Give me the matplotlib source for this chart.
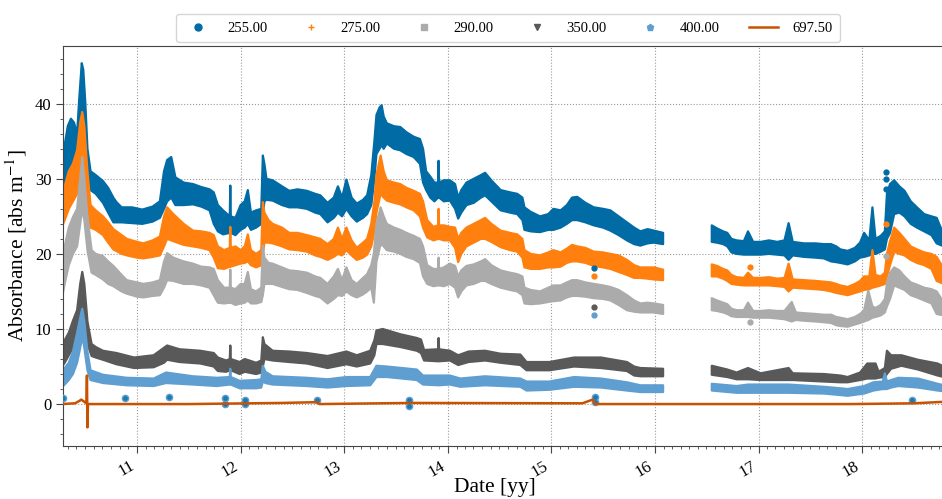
import numpy as np
import pandas as pd
import matplotlib
matplotlib.use("Agg")
import matplotlib.pyplot as plt
import matplotlib.dates as mdates
from matplotlib.lines import Line2D

plt.rcParams['font.family'] = 'serif'
plt.rcParams['font.serif'] = ['Liberation Serif', 'DejaVu Serif']
plt.rcParams['mathtext.fontset'] = 'stix'

nan = np.nan

# -------- DATA: (decimal year, lower edge, upper edge) of each absorbance band --------
band_255 = [
    (2010.27, 27.0, 33.0), (2010.30, 28.5, 34.5), (2010.33, 30.5, 37.0), (2010.36, 31.5, 38.0),
    (2010.39, 32.5, 37.5), (2010.42, 31.0, 36.0), (2010.44, 33.0, 40.5), (2010.465, 36.0, 45.4),
    (2010.48, 36.0, 44.5), (2010.50, 32.0, 40.0), (2010.52, 29.0, 34.0), (2010.55, 28.5, 31.0),
    (2010.60, 28.0, 30.5), (2010.67, 26.8, 29.7), (2010.72, 25.5, 28.8), (2010.77, 24.2, 27.5),
    (2010.80, 24.2, 26.9), (2010.85, 24.2, 26.2), (2010.95, 24.1, 26.2), (2011.05, 24.0, 25.9),
    (2011.15, 24.3, 26.3), (2011.22, 24.8, 27.0), (2011.26, 26.0, 31.0), (2011.29, 27.0, 32.5),
    (2011.33, 27.5, 32.9), (2011.37, 26.5, 30.2), (2011.45, 26.5, 29.5), (2011.54, 26.6, 29.3),
    (2011.62, 26.3, 28.9), (2011.70, 25.8, 28.6), (2011.74, 24.0, 28.2), (2011.78, 23.0, 26.5),
    (2011.83, 22.6, 25.8), (2011.895, 22.8, 25.0), (2011.90, 23.0, 29.1), (2011.905, 22.8, 25.0),
    (2011.95, 22.5, 24.8), (2012.00, 23.2, 26.5), (2012.04, 23.5, 27.0), (2012.07, 24.0, 28.5),
    (2012.10, 23.2, 25.5), (2012.15, 23.5, 25.8), (2012.20, 24.0, 26.0), (2012.215, 25.0, 33.1),
    (2012.23, 27.0, 32.0), (2012.25, 27.2, 30.0), (2012.31, 27.1, 29.8), (2012.40, 26.5, 29.0),
    (2012.47, 26.2, 28.4), (2012.55, 26.2, 28.6), (2012.64, 26.0, 28.4), (2012.72, 25.5, 28.0),
    (2012.77, 25.3, 27.8), (2012.84, 24.2, 26.8), (2012.90, 24.8, 27.5), (2012.94, 25.5, 29.0),
    (2012.98, 25.0, 27.5), (2013.02, 26.0, 29.9), (2013.07, 25.0, 27.5), (2013.12, 24.3, 26.7),
    (2013.18, 24.8, 27.2), (2013.22, 25.3, 27.8), (2013.26, 26.5, 30.5), (2013.29, 30.0, 35.0),
    (2013.31, 33.3, 38.5), (2013.34, 34.0, 39.5), (2013.36, 34.5, 39.8), (2013.38, 34.0, 38.3),
    (2013.41, 34.7, 37.4), (2013.48, 34.0, 37.0), (2013.54, 33.8, 36.9), (2013.60, 33.3, 36.2),
    (2013.67, 32.9, 35.6), (2013.73, 32.0, 35.3), (2013.76, 29.5, 34.0), (2013.79, 28.5, 31.0),
    (2013.83, 27.5, 30.3), (2013.87, 27.0, 29.5), (2013.905, 27.5, 29.5), (2013.91, 28.0, 32.4),
    (2013.915, 27.5, 29.5), (2013.96, 27.0, 29.8), (2014.02, 27.1, 29.8), (2014.07, 26.0, 29.3),
    (2014.10, 24.7, 27.5), (2014.13, 25.5, 28.5), (2014.18, 26.5, 29.5), (2014.25, 26.8, 30.0),
    (2014.32, 27.5, 30.5), (2014.36, 27.8, 30.8), (2014.42, 27.0, 29.8), (2014.51, 25.8, 28.5),
    (2014.60, 25.5, 28.2), (2014.67, 25.3, 28.0), (2014.72, 24.5, 27.5), (2014.74, 23.2, 26.2),
    (2014.80, 23.0, 25.6), (2014.89, 22.9, 25.0), (2014.97, 23.2, 25.3), (2015.02, 23.2, 26.0),
    (2015.09, 23.5, 25.8), (2015.15, 24.0, 26.5), (2015.20, 24.5, 27.5), (2015.25, 24.5, 27.6),
    (2015.33, 24.2, 26.8), (2015.41, 23.8, 26.2), (2015.50, 23.5, 26.0), (2015.57, 23.1, 25.8),
    (2015.65, 22.5, 25.0), (2015.73, 21.8, 24.2), (2015.80, 21.3, 23.5), (2015.86, 21.1, 23.0),
    (2015.93, 21.4, 23.3), (2015.99, 21.5, 23.1), (2016.08, 21.3, 22.8), (2016.30, nan, nan),
    (2016.55, 21.6, 23.8), (2016.60, 21.5, 23.4), (2016.66, 21.3, 23.0), (2016.70, 21.0, 22.8),
    (2016.74, 20.2, 22.0), (2016.79, 20.0, 21.8), (2016.86, 19.9, 21.7), (2016.90, 19.9, 23.0),
    (2016.95, 19.9, 21.6), (2017.02, 19.9, 21.6), (2017.10, 20.0, 21.8), (2017.18, 19.9, 21.6),
    (2017.25, 19.8, 21.8), (2017.29, 19.2, 24.1), (2017.33, 19.8, 21.6), (2017.44, 19.6, 21.4),
    (2017.55, 19.5, 21.4), (2017.63, 19.4, 21.3), (2017.70, 19.0, 21.3), (2017.75, 18.9, 21.0),
    (2017.79, 18.8, 20.6), (2017.86, 18.6, 20.4), (2017.93, 19.0, 20.8), (2017.98, 19.5, 21.5),
    (2018.02, 19.6, 22.8), (2018.07, 19.8, 21.8), (2018.10, 20.0, 26.2), (2018.13, 20.0, 22.0),
    (2018.18, 20.3, 22.4), (2018.22, 20.6, 23.0), (2018.24, 22.0, 28.0), (2018.27, 22.8, 29.3),
    (2018.31, 25.3, 29.8), (2018.36, 25.5, 29.0), (2018.41, 25.0, 28.4), (2018.47, 24.0, 27.0),
    (2018.53, 23.5, 26.2), (2018.60, 23.0, 25.3), (2018.67, 22.5, 25.0), (2018.72, 21.4, 24.8),
    (2018.79, 21.0, 22.5),
]

band_275 = [
    (2010.27, 23.5, 28.0), (2010.30, 24.5, 29.0), (2010.34, 26.0, 31.0), (2010.38, 27.0, 32.0),
    (2010.42, 28.0, 33.8), (2010.45, 30.0, 37.5), (2010.47, 32.0, 38.9), (2010.49, 30.0, 37.0),
    (2010.52, 26.7, 31.0), (2010.55, 23.5, 26.5), (2010.60, 23.2, 25.8), (2010.67, 22.5, 25.0),
    (2010.72, 21.5, 24.2), (2010.77, 20.6, 23.3), (2010.85, 20.0, 22.5), (2010.90, 19.8, 22.0),
    (2011.00, 19.5, 21.6), (2011.06, 19.4, 21.4), (2011.15, 19.6, 21.8), (2011.22, 19.8, 22.3),
    (2011.26, 21.0, 25.0), (2011.29, 22.0, 26.2), (2011.35, 21.7, 25.3), (2011.45, 21.2, 24.0),
    (2011.54, 21.0, 23.1), (2011.62, 20.8, 23.0), (2011.70, 20.5, 22.8), (2011.74, 19.5, 22.5),
    (2011.78, 18.1, 21.0), (2011.84, 18.0, 20.5), (2011.895, 18.3, 20.8), (2011.90, 18.5, 23.6),
    (2011.905, 18.3, 20.8), (2011.95, 18.5, 21.0), (2012.00, 18.7, 20.5), (2012.04, 18.8, 21.0),
    (2012.07, 19.0, 22.6), (2012.10, 18.5, 20.5), (2012.15, 18.2, 20.0), (2012.20, 18.5, 20.5),
    (2012.215, 20.0, 26.9), (2012.23, 21.5, 25.5), (2012.27, 21.5, 24.5), (2012.31, 21.4, 24.0),
    (2012.40, 21.0, 23.5), (2012.47, 20.6, 22.8), (2012.55, 20.5, 22.8), (2012.64, 20.3, 22.5),
    (2012.72, 19.8, 22.2), (2012.77, 19.6, 22.0), (2012.84, 19.2, 21.3), (2012.90, 19.6, 22.0),
    (2012.94, 20.0, 23.5), (2012.98, 19.8, 22.0), (2013.02, 20.5, 23.5), (2013.07, 19.8, 21.8),
    (2013.12, 19.2, 20.8), (2013.18, 19.5, 21.5), (2013.22, 19.9, 22.0), (2013.26, 21.0, 24.0),
    (2013.29, 23.0, 27.0), (2013.31, 25.5, 30.5), (2013.35, 28.0, 33.1), (2013.38, 27.5, 31.0),
    (2013.41, 27.1, 29.8), (2013.48, 26.8, 29.5), (2013.54, 26.6, 29.3), (2013.60, 26.2, 28.8),
    (2013.67, 25.8, 28.4), (2013.73, 25.0, 28.0), (2013.76, 23.5, 27.0), (2013.80, 22.2, 24.5),
    (2013.86, 21.8, 23.6), (2013.905, 22.0, 23.8), (2013.91, 22.2, 26.0), (2013.915, 22.0, 23.8),
    (2013.96, 21.8, 23.8), (2014.02, 21.8, 23.6), (2014.07, 20.8, 23.5), (2014.10, 18.9, 22.0),
    (2014.13, 20.0, 22.8), (2014.18, 21.0, 23.5), (2014.25, 21.5, 24.0), (2014.32, 22.0, 24.5),
    (2014.36, 22.0, 24.8), (2014.42, 21.6, 24.0), (2014.51, 20.9, 23.1), (2014.60, 20.5, 22.8),
    (2014.67, 20.3, 22.6), (2014.72, 19.5, 22.0), (2014.74, 18.2, 20.5), (2014.80, 18.0, 20.0),
    (2014.89, 18.0, 19.8), (2014.97, 18.2, 20.2), (2015.02, 18.2, 20.5), (2015.09, 18.3, 20.2),
    (2015.15, 18.8, 20.7), (2015.20, 19.0, 21.2), (2015.25, 19.0, 21.0), (2015.33, 18.8, 20.8),
    (2015.41, 18.4, 20.3), (2015.50, 18.2, 20.2), (2015.57, 18.0, 20.0), (2015.65, 17.6, 19.8),
    (2015.73, 17.2, 19.2), (2015.80, 16.8, 18.5), (2015.86, 16.8, 18.2), (2015.93, 16.7, 18.2),
    (2015.99, 16.6, 18.2), (2016.08, 16.5, 17.9), (2016.30, nan, nan),
    (2016.55, 17.0, 18.6), (2016.60, 17.0, 18.4), (2016.66, 16.7, 18.0), (2016.70, 16.4, 17.8),
    (2016.74, 16.0, 17.2), (2016.79, 15.9, 16.9), (2016.86, 15.8, 16.8), (2016.90, 15.8, 17.5),
    (2016.95, 15.8, 16.8), (2017.02, 15.8, 16.8), (2017.10, 15.8, 16.9), (2017.18, 15.7, 16.7),
    (2017.25, 15.6, 16.8), (2017.29, 15.0, 18.7), (2017.33, 15.5, 16.6), (2017.44, 15.4, 16.5),
    (2017.55, 15.3, 16.4), (2017.63, 15.2, 16.3), (2017.70, 15.0, 16.2), (2017.75, 14.8, 16.0),
    (2017.79, 14.7, 15.8), (2017.86, 14.5, 15.6), (2017.93, 14.8, 16.0), (2017.98, 15.0, 16.4),
    (2018.02, 15.2, 17.0), (2018.07, 15.3, 17.0), (2018.10, 15.5, 20.5), (2018.13, 15.6, 17.2),
    (2018.18, 15.8, 17.0), (2018.22, 16.0, 17.5), (2018.24, 17.0, 20.0), (2018.27, 18.5, 21.7),
    (2018.31, 20.3, 23.5), (2018.36, 20.0, 22.8), (2018.41, 19.8, 22.0), (2018.47, 19.2, 21.0),
    (2018.53, 18.8, 20.6), (2018.60, 18.5, 20.2), (2018.67, 18.0, 20.0), (2018.72, 16.4, 19.6),
    (2018.79, 16.0, 18.0),
]

band_290 = [
    (2010.27, 13.8, 18.0), (2010.30, 16.0, 21.0), (2010.34, 18.5, 23.5), (2010.38, 20.0, 24.9),
    (2010.42, 21.0, 26.0), (2010.45, 24.0, 30.0), (2010.47, 26.0, 32.9), (2010.49, 24.5, 30.0),
    (2010.52, 20.5, 25.0), (2010.56, 17.5, 20.5), (2010.60, 17.2, 20.0), (2010.67, 16.6, 19.7),
    (2010.72, 16.0, 19.0), (2010.77, 15.7, 18.4), (2010.85, 15.0, 17.2), (2010.90, 14.7, 16.5),
    (2011.00, 14.3, 16.2), (2011.06, 14.2, 16.0), (2011.15, 14.4, 16.2), (2011.22, 14.5, 16.5),
    (2011.26, 15.5, 19.0), (2011.29, 16.5, 20.1), (2011.35, 16.4, 19.5), (2011.45, 16.0, 19.0),
    (2011.54, 16.0, 18.7), (2011.62, 15.8, 18.3), (2011.70, 15.5, 18.2), (2011.74, 14.5, 18.0),
    (2011.78, 13.5, 16.5), (2011.84, 13.4, 15.5), (2011.895, 13.5, 15.5), (2011.90, 13.8, 17.9),
    (2011.905, 13.5, 15.5), (2011.95, 13.2, 15.3), (2012.00, 13.4, 16.0), (2012.04, 13.5, 16.0),
    (2012.07, 13.8, 17.6), (2012.10, 13.4, 15.3), (2012.15, 13.4, 15.0), (2012.20, 13.6, 15.5),
    (2012.215, 14.5, 21.1), (2012.23, 16.0, 19.5), (2012.27, 16.0, 18.8), (2012.31, 16.0, 18.7),
    (2012.40, 15.6, 18.2), (2012.47, 15.3, 17.8), (2012.55, 15.2, 17.7), (2012.64, 14.8, 17.5),
    (2012.72, 14.4, 17.0), (2012.77, 14.2, 16.8), (2012.84, 13.4, 16.0), (2012.90, 14.0, 17.0),
    (2012.94, 14.5, 18.0), (2012.98, 14.4, 16.5), (2013.02, 15.0, 18.2), (2013.07, 14.5, 16.5),
    (2013.12, 14.2, 16.0), (2013.18, 14.6, 16.8), (2013.22, 15.0, 17.3), (2013.26, 15.5, 18.5),
    (2013.285, 13.5, 20.0), (2013.31, 19.0, 24.0), (2013.35, 21.3, 26.2), (2013.38, 21.0, 25.0),
    (2013.41, 20.5, 24.0), (2013.48, 20.3, 23.5), (2013.54, 20.0, 23.2), (2013.60, 19.6, 22.8),
    (2013.67, 19.3, 22.4), (2013.73, 18.8, 22.0), (2013.76, 17.0, 21.0), (2013.80, 16.0, 18.5),
    (2013.86, 15.7, 18.0), (2013.905, 15.8, 18.0), (2013.91, 15.8, 19.5), (2013.915, 15.8, 18.0),
    (2013.96, 15.7, 18.2), (2014.02, 16.0, 18.7), (2014.07, 15.5, 18.4), (2014.10, 14.2, 17.0),
    (2014.13, 15.0, 17.8), (2014.18, 15.8, 18.4), (2014.25, 16.0, 18.6), (2014.32, 16.4, 19.0),
    (2014.36, 16.4, 19.3), (2014.42, 16.0, 18.5), (2014.51, 15.5, 17.8), (2014.60, 15.2, 17.5),
    (2014.67, 15.0, 17.3), (2014.72, 14.5, 17.0), (2014.74, 13.4, 15.5), (2014.80, 13.3, 15.2),
    (2014.89, 13.4, 15.0), (2014.97, 13.6, 15.5), (2015.02, 13.7, 15.8), (2015.09, 13.8, 15.8),
    (2015.15, 14.2, 16.2), (2015.20, 14.4, 16.5), (2015.25, 14.4, 16.5), (2015.33, 14.3, 16.2),
    (2015.41, 14.1, 16.0), (2015.50, 14.0, 15.8), (2015.57, 13.8, 15.6), (2015.65, 13.2, 15.2),
    (2015.73, 12.5, 14.5), (2015.80, 12.3, 13.8), (2015.86, 12.2, 13.4), (2015.93, 12.2, 13.5),
    (2015.99, 12.2, 13.4), (2016.08, 12.0, 13.2), (2016.30, nan, nan),
    (2016.55, 12.5, 14.1), (2016.60, 12.4, 13.8), (2016.66, 12.2, 13.5), (2016.70, 12.0, 13.3),
    (2016.74, 11.7, 12.7), (2016.79, 11.6, 12.5), (2016.86, 11.6, 12.5), (2016.90, 11.6, 13.5),
    (2016.95, 11.5, 12.4), (2017.02, 11.5, 12.4), (2017.10, 11.5, 12.5), (2017.18, 11.4, 12.4),
    (2017.25, 11.3, 12.4), (2017.32, 11.0, 13.6), (2017.36, 11.2, 12.2), (2017.44, 11.1, 12.1),
    (2017.55, 11.0, 12.0), (2017.63, 10.9, 11.9), (2017.70, 10.8, 11.9), (2017.75, 10.5, 11.6),
    (2017.79, 10.4, 11.5), (2017.86, 10.3, 11.3), (2017.93, 10.6, 11.6), (2017.98, 10.8, 12.0),
    (2018.02, 11.0, 12.5), (2018.06, 11.2, 15.1), (2018.10, 11.5, 13.0), (2018.13, 11.6, 12.8),
    (2018.18, 11.8, 13.2), (2018.22, 12.2, 14.0), (2018.24, 13.0, 16.0), (2018.27, 14.0, 17.5),
    (2018.31, 15.8, 18.2), (2018.36, 15.5, 17.8), (2018.41, 15.2, 17.0), (2018.47, 14.5, 16.2),
    (2018.53, 14.2, 15.9), (2018.60, 13.8, 15.5), (2018.67, 13.4, 15.3), (2018.72, 12.0, 15.0),
    (2018.79, 11.8, 13.5),
]

band_350 = [
    (2010.27, 4.9, 8.0), (2010.30, 5.5, 8.5), (2010.34, 6.5, 9.5), (2010.38, 7.5, 11.1),
    (2010.42, 8.5, 12.5), (2010.45, 10.5, 16.0), (2010.47, 12.5, 17.6), (2010.49, 11.0, 16.0),
    (2010.52, 8.0, 11.0), (2010.56, 6.4, 8.0), (2010.60, 6.2, 7.6), (2010.67, 5.9, 7.1),
    (2010.80, 5.3, 6.8), (2010.97, 4.8, 6.2), (2011.16, 4.9, 6.5), (2011.26, 5.5, 7.5),
    (2011.29, 5.9, 7.8), (2011.41, 5.6, 7.3), (2011.61, 5.4, 7.1), (2011.74, 5.0, 6.8),
    (2011.78, 4.4, 6.2), (2011.86, 4.3, 5.8), (2011.895, 4.5, 6.0), (2011.90, 4.6, 7.8),
    (2011.905, 4.5, 6.0), (2011.99, 4.0, 5.6), (2012.04, 4.3, 6.0), (2012.15, 4.0, 5.5),
    (2012.20, 4.2, 5.8), (2012.215, 5.0, 8.9), (2012.23, 6.0, 8.0), (2012.31, 5.8, 7.1),
    (2012.47, 5.6, 7.0), (2012.64, 5.4, 6.8), (2012.84, 4.8, 6.4), (2013.02, 5.3, 7.0),
    (2013.12, 5.0, 6.5), (2013.25, 5.4, 7.1), (2013.29, 6.5, 8.5), (2013.31, 8.0, 9.8),
    (2013.37, 8.0, 10.0), (2013.54, 7.6, 9.3), (2013.70, 7.1, 8.8), (2013.74, 6.8, 8.6),
    (2013.77, 5.8, 7.2), (2013.905, 5.7, 7.3), (2013.91, 5.8, 8.8), (2013.915, 5.7, 7.3),
    (2014.02, 5.8, 7.1), (2014.10, 5.2, 6.5), (2014.20, 5.6, 7.0), (2014.36, 5.8, 7.1),
    (2014.51, 5.5, 6.7), (2014.70, 5.2, 6.6), (2014.76, 4.5, 5.6), (2014.98, 4.5, 5.6),
    (2015.22, 5.0, 6.2), (2015.48, 4.8, 6.2), (2015.73, 4.4, 5.6), (2015.80, 3.8, 5.0),
    (2015.86, 3.7, 4.8), (2016.08, 3.7, 4.7), (2016.30, nan, nan),
    (2016.55, 3.9, 5.1), (2016.70, 3.6, 4.6), (2016.79, 3.3, 4.2), (2016.90, 3.3, 4.8),
    (2017.02, 3.2, 4.1), (2017.29, 3.2, 4.8), (2017.33, 3.2, 4.1), (2017.63, 3.0, 4.0),
    (2017.79, 2.9, 3.8), (2017.86, 2.9, 3.6), (2017.98, 3.2, 4.2), (2018.05, 3.4, 5.4),
    (2018.13, 3.4, 5.4), (2018.16, 3.5, 4.3), (2018.22, 3.6, 4.8), (2018.24, 4.0, 7.1),
    (2018.28, 4.7, 6.5), (2018.38, 5.1, 6.5), (2018.54, 4.6, 5.9), (2018.73, 3.8, 5.4),
    (2018.79, 3.6, 5.0),
]

band_400 = [
    (2010.27, 2.2, 4.5), (2010.30, 2.6, 4.8), (2010.34, 3.2, 5.5), (2010.38, 4.0, 7.0),
    (2010.42, 5.5, 9.5), (2010.45, 7.5, 11.5), (2010.47, 9.0, 12.7), (2010.49, 7.5, 11.0),
    (2010.52, 4.5, 7.0), (2010.55, 3.2, 4.5), (2010.67, 2.8, 3.9), (2010.90, 2.5, 3.5),
    (2011.16, 2.4, 3.4), (2011.28, 2.8, 4.2), (2011.54, 2.6, 3.7), (2011.77, 2.4, 3.5),
    (2011.895, 2.6, 3.6), (2011.90, 2.8, 4.7), (2011.905, 2.6, 3.6), (2011.99, 2.1, 3.1),
    (2012.15, 2.1, 3.2), (2012.20, 2.2, 3.3), (2012.215, 3.0, 5.1), (2012.24, 2.8, 4.3),
    (2012.31, 2.6, 3.7), (2012.64, 2.4, 3.5), (2012.84, 2.2, 3.3), (2013.02, 2.4, 3.6),
    (2013.25, 2.5, 3.6), (2013.31, 3.6, 5.1), (2013.41, 3.6, 5.0), (2013.70, 3.2, 4.6),
    (2013.76, 2.6, 3.8), (2013.91, 2.5, 3.8), (2014.02, 2.6, 3.8), (2014.12, 2.3, 3.4),
    (2014.36, 2.5, 3.7), (2014.70, 2.3, 3.4), (2014.76, 1.8, 3.0), (2014.98, 1.9, 3.0),
    (2015.22, 2.3, 3.6), (2015.48, 2.2, 3.4), (2015.73, 1.8, 2.9), (2015.86, 1.6, 2.5),
    (2016.08, 1.6, 2.5), (2016.30, nan, nan),
    (2016.55, 1.8, 2.7), (2016.79, 1.5, 2.4), (2016.90, 1.5, 2.6), (2017.29, 1.5, 2.6),
    (2017.63, 1.4, 2.3), (2017.79, 1.2, 2.1), (2017.86, 1.1, 2.0), (2018.02, 1.4, 2.4),
    (2018.11, 1.8, 2.9), (2018.20, 2.0, 3.0), (2018.22, 2.0, 4.1), (2018.24, 2.0, 3.0),
    (2018.28, 2.2, 3.2), (2018.35, 2.4, 3.5), (2018.54, 2.2, 3.4), (2018.73, 1.8, 2.7),
    (2018.79, 1.7, 2.5),
]

# 697.5 nm reference channel, a single thin trace
trace_697 = [
    (2010.27, 0.0), (2010.40, 0.1), (2010.44, 0.4), (2010.46, 0.6), (2010.49, 0.3),
    (2010.51, 0.1), (2010.515, 3.8), (2010.52, -3.1), (2010.525, 0.0), (2010.60, 0.0),
    (2011.50, 0.0), (2012.40, 0.15), (2012.74, 0.25), (2012.76, 0.0), (2013.65, 0.15),
    (2015.30, 0.1), (2015.40, 0.6), (2015.42, 0.0), (2016.08, 0.0), (2017.90, 0.0),
    (2018.50, 0.1), (2018.79, 0.3),
]

# isolated readings away from the bands
outliers_255 = [(2015.41, 18.1), (2018.23, 30.9), (2018.23, 30.0), (2018.235, 28.7)]
outliers_275 = [(2015.41, 17.0), (2018.23, 24.0), (2016.92, 18.2)]
outliers_290 = [(2016.92, 10.9), (2018.23, 19.7)]
outliers_350 = [(2015.41, 12.9)]
outliers_400 = [(2015.41, 11.8)]
near_zero = [(2010.28, 0.8), (2010.88, 0.8), (2011.31, 1.0), (2011.85, 0.8), (2011.85, 0.0),
             (2012.04, 0.5), (2012.04, 0.0), (2012.74, 0.6), (2013.62, 0.5), (2013.62, -0.2),
             (2015.42, 0.9), (2015.42, 0.3), (2018.48, 0.5)]

wavelengths = ['255.00', '275.00', '290.00', '350.00', '400.00', '697.50']
colors = ['#006BA4', '#FF800E', '#ABABAB', '#595959', '#5F9ED1', '#C85200']
markers = ['o', '+', 's', 'v', 'p']


def to_dt(years):
    years = np.asarray(years, dtype=float)
    whole = np.floor(years).astype(int)
    start = pd.to_datetime([f"{y}-01-01" for y in whole])
    return start + pd.to_timedelta((years - whole) * 365.25, unit='D')


# -------- PLOT --------
fig = plt.figure(figsize=(9.42, 4.99), dpi=100)
ax = fig.add_axes([0.067, 0.106, 0.935, 0.802])

bands = [band_255, band_275, band_290, band_350, band_400]
outliers = [outliers_255, outliers_275, outliers_290, outliers_350, outliers_400]
for band, extra, c in zip(bands, outliers, colors):
    arr = np.array(band, dtype=float)
    t = to_dt(arr[:, 0])
    ax.fill_between(t, arr[:, 1], arr[:, 2], color=c, lw=1.6, edgecolor=c, zorder=2)
    ex = np.array(extra, dtype=float)
    ax.plot(to_dt(ex[:, 0]), ex[:, 1], 'o', ms=3.5, color=c, zorder=3)

nz = np.array(near_zero, dtype=float)
ax.plot(to_dt(nz[:, 0]), nz[:, 1], 'o', ms=4.5, color=colors[4], zorder=3)
ax.plot(to_dt(nz[:, 0]), nz[:, 1], 'o', ms=2.5, color=colors[0], alpha=0.6, zorder=3)

tr = np.array(trace_697, dtype=float)
ax.plot(to_dt(tr[:, 0]), tr[:, 1], color=colors[5], lw=1.8, zorder=4)

ax.set_xlim(to_dt([2010.285])[0], to_dt([2018.79])[0])
ax.set_ylim(-5.6, 47.7)

ax.xaxis.set_major_locator(mdates.YearLocator())
ax.xaxis.set_minor_locator(mdates.MonthLocator())
ax.xaxis.set_major_formatter(mdates.DateFormatter('%y'))
ax.yaxis.set_major_locator(plt.MultipleLocator(10))
ax.yaxis.set_minor_locator(plt.MultipleLocator(2))
ax.tick_params(axis='both', which='major', labelsize=12, length=5, color='#444444')
ax.tick_params(axis='both', which='minor', length=2.5, color='#444444')
for lbl in ax.get_xticklabels():
    lbl.set_rotation(30)
    lbl.set_ha('right')

ax.grid(True, which='major', linestyle=':', color='#999999', linewidth=0.8)
ax.set_axisbelow(True)
for s in ['left', 'bottom', 'top']:
    ax.spines[s].set_color('#444444')
ax.spines['right'].set_visible(False)

ax.set_xlabel('Date [yy]', fontsize=15.5)
ax.xaxis.set_label_coords(0.49, -0.08)
ax.set_ylabel(r'Absorbance [abs m$^{-1}$]', fontsize=15.5)

handles = [Line2D([], [], ls='none', marker=m, color=c, ms=5) for m, c in zip(markers, colors)]
handles.append(Line2D([], [], color=colors[5], lw=1.8))
ax.legend(handles, wavelengths, ncol=6, loc='lower center', bbox_to_anchor=(0.505, 1.01),
          borderaxespad=0, fontsize=10.5, frameon=True, fancybox=True, handlelength=2.0,
          columnspacing=2.0, handletextpad=1.0, borderpad=0.5)

plt.savefig('out.png', dpi=100)
